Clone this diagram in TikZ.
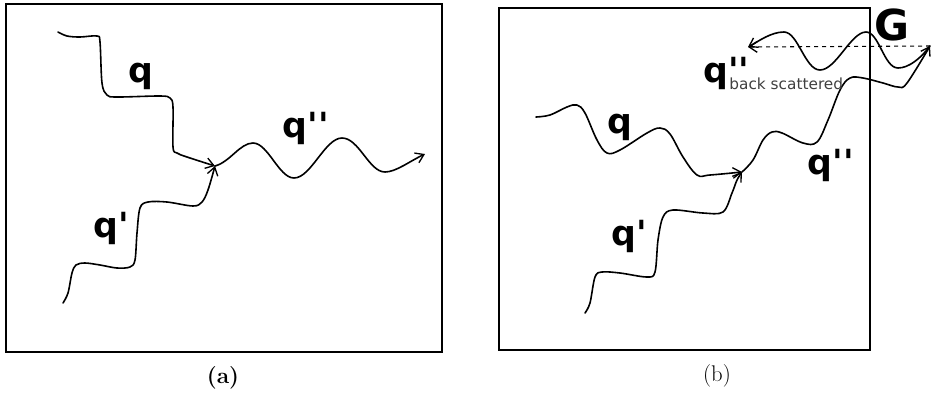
\documentclass[tikz,border=0pt]{standalone}
\usepackage{fontspec}
\newfontfamily\lblfont{DejaVu Sans}
\usetikzlibrary{arrows.meta}
\begin{document}
\begin{tikzpicture}[x=0.75pt,y=-0.75pt,
  wave/.style={line width=1.2pt, line join=round, line cap=round},
  tip/.style={-{Straight Barb[length=6pt,width=8pt,line width=1pt]}},
  frame/.style={draw, line width=1.3pt},
  qlabel/.style={font=\lblfont\bfseries\fontsize{26}{26}\selectfont, inner sep=0pt, anchor=base},
  glabel/.style={font=\lblfont\bfseries\fontsize{32}{32}\selectfont, inner sep=0pt, anchor=base},
  caption/.style={font=\fontsize{17}{17}\selectfont, inner sep=0pt}
]
\useasboundingbox (0,0) rectangle (931,394);

% ---------- panel (a) ----------
\draw[frame] (6,4) rectangle (442,352);
\coordinate (va) at (215,166);
\draw[wave,tip] plot[smooth,tension=0.55] coordinates {(58,32) (67,36) (80,37) (97,36) (100,42) (102,83) (107,95) (117,97) (160,96) (170,98) (173,107) (173,147) (177,153) (187,157) (va)};
\draw[wave,tip] plot[smooth,tension=0.55] coordinates {(63,303) (68,293) (72,273) (76,265) (85,263) (100,265) (117,268) (130,267) (135,260) (137,233) (140,208) (148,202) (167,202) (193,206) (202,202) (208,190) (va)};
\coordinate (ea) at (425,154);
\draw[wave,tip] (va) .. controls (230,162) and (240,143) .. (253,143)
  .. controls (268,143) and (279,178) .. (294,178)
  .. controls (311,178) and (325,138) .. (342,138)
  .. controls (359,138) and (369,172) .. (385,172)
  .. controls (396,172) and (410,161) .. (ea);
\node[qlabel] (qa) at (141,82) {q};
\node[qlabel] (qpa) at (111,237) {q'};
\node[qlabel] (qppa) at (306,137) {q''};
\node[caption] (capa) at (223,378) {\textbf{(a)}};

% ---------- panel (b) ----------
\draw[frame] (499,8) rectangle (870,350);
\coordinate (vb) at (742,172);
\coordinate (gp) at (930,46);
\coordinate (bk) at (748,47);
\draw[wave,tip] plot[smooth,tension=0.6] coordinates {(536,117) (550,115) (567,107) (577,105) (585,113) (597,140) (607,153) (620,150) (647,133) (660,128) (670,134) (683,157) (697,175) (710,175) (vb)};
\draw[wave,tip] plot[smooth,tension=0.55] coordinates {(585,313) (590,303) (595,277) (602,272) (620,273) (647,277) (655,272) (658,240) (663,217) (673,210) (703,213) (723,212) (732,193) (737,180) (vb)};
\draw[wave,tip] plot[smooth,tension=0.6] coordinates {(vb) (753,160) (763,140) (772,132) (782,133) (803,143) (817,142) (828,120) (840,90) (850,78) (863,78) (883,83) (898,87) (907,83) (gp)};
\draw[wave,tip] (gp) .. controls (921,58) and (909,68) .. (898,68)
  .. controls (884,68) and (879,32) .. (866,32)
  .. controls (851,32) and (836,70) .. (820,70)
  .. controls (805,70) and (798,32) .. (784,32)
  .. controls (771,32) and (759,41) .. (bk);
\draw[line width=0.8pt, dashed, tip] (gp) -- (bk);
\node[qlabel] (qb) at (620,133) {q};
\node[qlabel] (qpb) at (629,245) {q'};
\node[qlabel] (qppb) at (831,174) {q''};
\node[qlabel, anchor=base west] (qbs) at (703,82) {q\rlap{''}\kern1pt\raisebox{-5.3pt}{\mdseries\fontsize{11.5}{11.5}\selectfont\color{black!75}back scattered}};
\node[glabel] (g) at (892,40) {G};
\node[caption] (capb) at (717,376) {(b)};
\end{tikzpicture}
\end{document}
